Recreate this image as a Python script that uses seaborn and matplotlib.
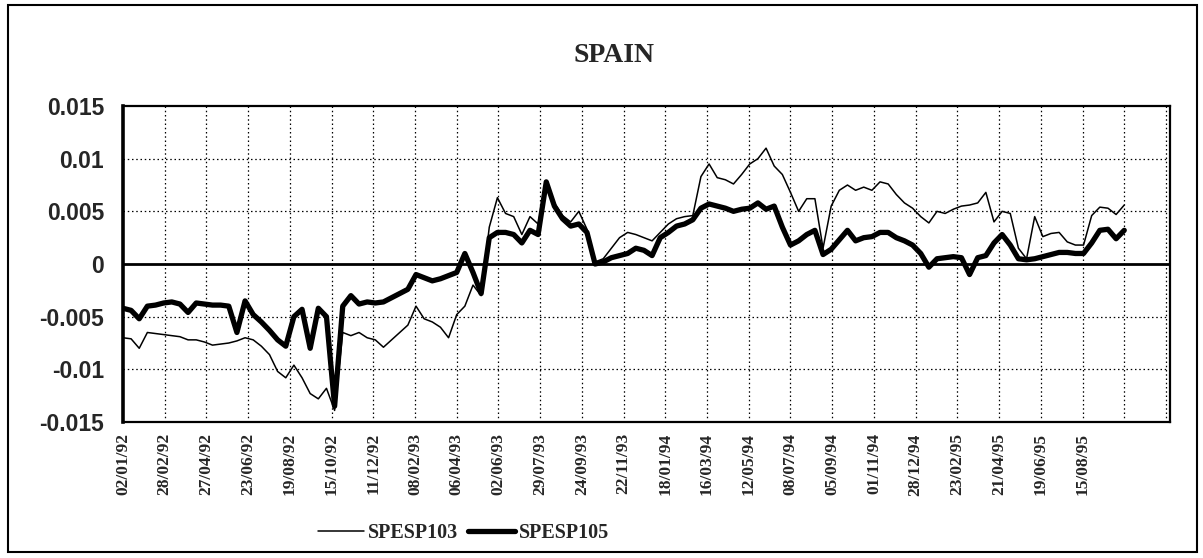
"""SPAIN: SPESP103 vs SPESP105 daily series, 1992-1995."""

import matplotlib
matplotlib.use("Agg")
import matplotlib.pyplot as plt
from matplotlib.patches import Rectangle
import numpy as np
import pandas as pd
import seaborn as sns

# Tick labels on the category (trading-day) axis, one every 41 observations
date_labels = [
    "02/01/92", "28/02/92", "27/04/92", "23/06/92", "19/08/92", "15/10/92",
    "11/12/92", "08/02/93", "06/04/93", "02/06/93", "29/07/93", "24/09/93",
    "22/11/93", "18/01/94", "16/03/94", "12/05/94", "08/07/94", "05/09/94",
    "01/11/94", "28/12/94", "23/02/95", "21/04/95", "19/06/95", "15/08/95",
]
obs_per_label = 41
n_gridlines = 26
obs_step = 8  # values every 8 trading days

# values in units of 0.001
spesp103 = [
    -7.0, -7.1, -8.0, -6.5, -6.6, -6.7, -6.8, -6.9, -7.2, -7.2,
    -7.4, -7.7, -7.6, -7.5, -7.3, -7.0, -7.2, -7.8, -8.6, -10.2,
    -10.8, -9.6, -10.8, -12.3, -12.8, -11.8, -13.9, -6.5, -6.8, -6.5,
    -7.0, -7.2, -7.9, -7.2, -6.5, -5.8, -4.0, -5.2, -5.5, -6.0,
    -7.0, -4.8, -4.0, -2.0, -3.0, 3.5, 6.3, 4.8, 4.5, 2.8,
    4.5, 3.8, 7.8, 5.8, 4.6, 4.0, 5.0, 3.3, 0.2, 0.5,
    1.5, 2.5, 3.0, 2.8, 2.5, 2.2, 3.0, 3.8, 4.3, 4.5,
    4.6, 8.3, 9.5, 8.2, 8.0, 7.6, 8.5, 9.5, 10.0, 11.0,
    9.3, 8.5, 6.8, 5.0, 6.2, 6.2, 1.5, 5.5, 7.0, 7.5,
    7.0, 7.3, 7.0, 7.8, 7.6, 6.6, 5.8, 5.3, 4.5, 3.9,
    5.0, 4.8, 5.2, 5.5, 5.6, 5.8, 6.8, 4.0, 5.0, 4.8,
    1.5, 0.5, 4.5, 2.6, 2.9, 3.0, 2.1, 1.8, 1.8, 4.6,
    5.4, 5.3, 4.7, 5.6,
]
spesp105 = [
    -4.2, -4.4, -5.2, -4.0, -3.9, -3.7, -3.6, -3.8, -4.6, -3.7,
    -3.8, -3.9, -3.9, -4.0, -6.5, -3.5, -4.8, -5.5, -6.3, -7.2,
    -7.8, -5.0, -4.3, -8.0, -4.2, -5.0, -13.5, -4.0, -3.0, -3.8,
    -3.6, -3.7, -3.6, -3.2, -2.8, -2.4, -1.0, -1.3, -1.6, -1.4,
    -1.1, -0.8, 1.0, -0.8, -2.8, 2.5, 3.0, 3.0, 2.8, 2.0,
    3.2, 2.8, 7.8, 5.5, 4.3, 3.6, 3.8, 3.0, 0.0, 0.2,
    0.6, 0.8, 1.0, 1.5, 1.3, 0.8, 2.5, 3.0, 3.6, 3.8,
    4.2, 5.3, 5.7, 5.5, 5.3, 5.0, 5.2, 5.3, 5.8, 5.2,
    5.5, 3.5, 1.8, 2.2, 2.8, 3.2, 0.9, 1.4, 2.3, 3.2,
    2.2, 2.5, 2.6, 3.0, 3.0, 2.5, 2.2, 1.8, 1.0, -0.3,
    0.5, 0.6, 0.7, 0.6, -1.0, 0.6, 0.8, 2.0, 2.8, 1.8,
    0.5, 0.4, 0.5, 0.7, 0.9, 1.1, 1.1, 1.0, 1.0, 2.0,
    3.2, 3.3, 2.4, 3.2,
]

y_ticks = [0.015, 0.01, 0.005, 0, -0.005, -0.01, -0.015]
y_tick_labels = ["0.015", "0.01", "0.005", "0", "-0.005", "-0.01", "-0.015"]

obs = np.arange(len(spesp103)) * obs_step
df = pd.DataFrame({
    "obs": np.concatenate([obs, obs]),
    "value": np.array(spesp103 + spesp105) * 1e-3,
    "series": ["SPESP103"] * len(obs) + ["SPESP105"] * len(obs),
})

sns.set_style("white")
serif = ["Liberation Serif", "DejaVu Serif"]
sans = ["Liberation Sans", "DejaVu Sans"]

fig = plt.figure(figsize=(12.03, 5.58), dpi=100)
ax = fig.add_axes([0.1022, 0.2437, 0.8704, 0.5663])

sns.lineplot(data=df[df.series == "SPESP103"], x="obs", y="value",
             color="black", lw=1.1, ax=ax, label="SPESP103")
sns.lineplot(data=df[df.series == "SPESP105"], x="obs", y="value",
             color="black", lw=3.8, ax=ax, label="SPESP105")

x_end = (n_gridlines - 1) * obs_per_label + 4
ax.set_xlim(0, x_end)
ax.set_ylim(-0.015, 0.015)

# grid
grid_ls = (0, (1.2, 2.2))
for k in range(1, n_gridlines):
    ax.axvline(k * obs_per_label, color="black", lw=0.9, ls=grid_ls, zorder=0)
for v in [0.01, 0.005, -0.005, -0.01]:
    ax.axhline(v, color="black", lw=0.9, ls=grid_ls, zorder=0)
ax.axhline(0, color="black", lw=2.0, zorder=1)

xt = [k * obs_per_label for k in range(len(date_labels))]
ax.set_xticks(xt)
ax.set_xticklabels(date_labels, rotation=90, fontfamily=serif,
                   fontweight="bold", fontsize=12.5)
ax.tick_params(axis="x", length=0, pad=8)
ax.set_yticks(y_ticks)
ax.set_yticklabels(y_tick_labels, fontfamily=sans, fontweight="bold",
                   fontsize=16.5)
ax.tick_params(axis="y", direction="inout", length=9, width=1.8, pad=9)
ax.set_xlabel("")
ax.set_ylabel("")

for side, lw in [("left", 2.6), ("bottom", 1.6), ("top", 1.6), ("right", 1.6)]:
    ax.spines[side].set_visible(True)
    ax.spines[side].set_color("black")
    ax.spines[side].set_linewidth(lw)

fig.text(0.51, 0.90, "SPAIN", ha="center", va="center", fontsize=20,
         fontweight="bold", fontfamily=serif)

handles, labels = ax.get_legend_handles_labels()
ax.legend_.remove()
fig.legend(handles, labels, loc="center", bbox_to_anchor=(0.385, 0.045),
           ncol=2, frameon=False, handlelength=2.3, handletextpad=0.2,
           columnspacing=0.5,
           prop={"family": serif, "weight": "bold", "size": 14.5})

fig.patches.append(Rectangle((0.007, 0.011), 0.988, 0.98, transform=fig.transFigure,
                             fill=False, edgecolor="black", lw=1.5))

fig.savefig("out.png", dpi=100)
